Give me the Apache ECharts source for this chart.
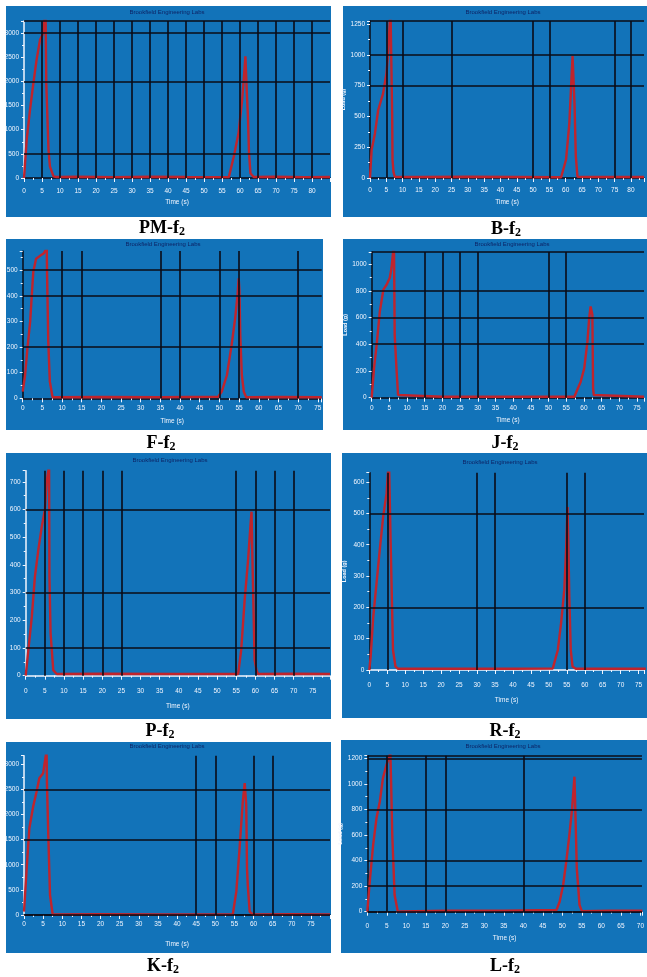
<!DOCTYPE html>
<html><head><meta charset="utf-8">
<script src="https://cdn.jsdelivr.net/npm/echarts/dist/echarts.min.js"></script>
<style>html,body{margin:0;padding:0;background:#fff}#c{width:647px;height:977px}</style>
</head><body><div id="c"></div>
<script>
// ---- data (time s, load g) ----
const captions = ['PM', 'B', 'F', 'J', 'P', 'R', 'K', 'L'];
const chartTitle = 'Brookfield Engineering Labs';
const xName = 'Time (s)';
const yName = 'Load (g)';

const pmLoad = [[0,0],[0.74,790],[1.67,1410],[2.6,1960],[3.5,2450],[4.45,2860],[5.4,3000],[5.7,3300],[6.0,3400],[6.2,1930],[6.8,590],[7.2,240],[8.2,35],[9,20],[15,25],[25,18],[35,25],[45,20],[56.9,18],[58.3,450],[59.6,930],[60.6,1620],[61.1,2100],[61.5,2520],[61.9,1760],[62.2,1280],[62.5,520],[62.9,100],[63.8,20],[70,25],[78,18],[85,20]];
const bLoad = [[0,0],[0.5,230],[1.5,360],[2.5,550],[4,685],[5.05,850],[5.6,1035],[6.06,1270],[6.3,1350],[6.6,1350],[6.8,500],[6.9,150],[7.2,50],[7.6,10],[15,8],[30,10],[45,8],[58.6,6],[60.1,150],[61.1,440],[62.1,990],[62.4,990],[62.7,600],[63.1,175],[63.6,10],[70,8],[84,8]];
const fLoad = [[0,26],[0.6,90],[1.2,195],[1.9,300],[2.3,400],[2.7,495],[3.4,545],[4.4,556],[5.3,565],[5.9,580],[6.1,600],[6.2,480],[6.5,220],[6.9,65],[7.6,4],[20,5],[35,4],[49.7,6],[50.6,26],[51.9,90],[53.1,208],[54,312],[54.6,403],[54.9,468],[55.1,420],[55.3,247],[55.7,91],[56.2,26],[56.8,4],[65,5],[76,4]];
const jLoad = [[0,0],[0.65,220],[1.4,395],[2.3,645],[3.3,808],[4.2,845],[5.1,895],[5.6,970],[6.05,1090],[6.3,1150],[6.5,470],[7.0,220],[7.45,20],[7.9,7],[20,7],[40,7],[57.3,7],[57.7,20],[59.1,120],[60.1,220],[61,420],[61.5,595],[61.9,683],[62.4,620],[62.6,70],[62.8,20],[63.3,7],[77,7]];
const pLoad = [[0,0],[0.7,93],[1.6,213],[2.4,357],[3.3,454],[4.2,538],[5.0,598],[5.5,700],[5.9,740],[6.1,780],[6.2,357],[6.5,153],[7.2,20],[8.1,6],[20,7],[40,6],[55.5,6],[56.3,93],[57.2,273],[58.1,418],[58.7,538],[59,592],[59.3,380],[59.8,57],[60.3,20],[60.7,6],[70,7],[79.5,6]];
const rLoad = [[0,0],[0.37,42],[1.1,170],[2,276],[2.9,382],[3.85,488],[4.8,563],[5.2,630],[5.5,660],[5.95,403],[6.6,64],[7.3,11],[8,4],[20,4],[40,4],[51.1,5],[52.5,64],[53.4,149],[54.3,255],[54.8,382],[55.2,520],[55.4,425],[55.7,234],[56.1,64],[56.6,11],[57.5,4],[70,4],[77,4]];
const kLoad = [[0,66],[0.7,930],[1.4,1726],[2.4,2158],[3.3,2457],[4,2722],[5,2822],[5.7,3174],[5.9,3300],[6.0,2620],[6.35,1594],[6.8,398],[7.5,10],[8,15],[20,18],[35,12],[54.6,15],[55.5,465],[56.3,1262],[57.2,2258],[57.7,2623],[58.1,2191],[58.3,930],[58.5,598],[59,66],[59.8,10],[70,15],[80,12]];
const lLoad = [[0,0],[0.7,261],[1.5,522],[2.35,730],[3.2,860],[4,1043],[4.9,1147],[5.7,1220],[5.9,1260],[6.1,1017],[6.4,600],[7,130],[7.8,4],[8.6,2],[20,8],[35,7],[48.5,13],[49.3,78],[50.2,209],[51,391],[51.8,600],[52.5,808],[53.1,1056],[53.4,704],[53.7,339],[54.4,52],[55,4],[62,7],[70.5,7]];

// cursor / grid lines (x = time, y = load)
const pmV = [5,10,15,20,25,30,35,40,45,50,55,60,65,70,75,80], pmH = [500,2000,3000,3250];
const bV = [5,10,25,50,55,75,80], bH = [750,1000,1275];
const fV = [10,15,35,40,50,55,70], fH = [200,400,500];
const jV = [15,20,25,30,50,55], jH = [400,600,800,1090];
const pV = [5,10,15,20,25,55,60,65,70], pH = [100,300,600];
const rV = [5,30,35,55,60], rH = [200,500];
const kV = [45,50,60,65], kH = [0,1500,2500];
const lV = [5,15,20,40], lH = [0,200,400,800,1200,1220];

// axis ranges
const xMaxes = [85, 84, 76, 77, 79.5, 76.5, 80, 70.4];
const yMaxes = [3250, 1275, 575, 1090, 740, 630, 3170, 1220];
const ySteps = [500, 250, 100, 200, 100, 100, 500, 200];

const series = [pmLoad, bLoad, fLoad, jLoad, pLoad, rLoad, kLoad, lLoad];
const vLines = [pmV, bV, fV, jV, pV, rV, kV, lV];
const hLines = [pmH, bH, fH, jH, pH, rH, kH, lH];

// ---- layout (pixels) ----
const layout = [
  {box:[6,6,325,211],   grid:[24,21,306,157],       title:[167,12],    cap:[162,228], yName:false, yWhite:true,  off:0, lm:10, ng:21},
  {box:[343,6,304,211], grid:[370,21,277,157],      title:[503,12],    cap:[506,229], yName:true,  yWhite:false, off:0, lm:9,  ng:21},
  {box:[6,239,317,191], grid:[22.7,251,299,147.3],  title:[163,244.5], cap:[161,443], yName:false, yWhite:false, off:0, lm:6,  ng:19},
  {box:[343,239,304,191], grid:[371.7,252,275.3,145.7], title:[512,244.5], cap:[505,443], yName:true, yWhite:false, off:0, lm:7, ng:19},
  {box:[6,453,325,266], grid:[25.7,470.7,304.3,205], title:[170,460],  cap:[160,731], yName:false, yWhite:true,  off:4, lm:8,  ng:23},
  {box:[342,453,305,265], grid:[369.3,472.7,277.7,197.3], title:[500,462.7], cap:[505,731], yName:true, yWhite:false, off:6, lm:6, ng:21},
  {box:[6,742,325,211], grid:[24,755.7,306,159.3],   title:[167,746.7], cap:[163,966], yName:false, yWhite:true,  off:0, lm:6,  ng:26},
  {box:[341,740,306,213], grid:[367.3,755.7,279.7,156], title:[503,746.7], cap:[505,966], yName:true, yWhite:false, off:0, lm:11, ng:23}
];

const BLUE = '#1273b9', NAVY = '#0d2466', RED = '#c0242c', BLACK = '#0b0b16', WHITE = '#f2f6ff';

const grids = [], xAxes = [], yAxes = [], ser = [], graphics = [];
layout.forEach((L, i) => {
  graphics.push({type:'rect', z:-10, shape:{x:L.box[0], y:L.box[1], width:L.box[2], height:L.box[3]}, style:{fill:BLUE}});
  graphics.push({type:'text', z:1, x:L.title[0], y:L.title[1], style:{text:chartTitle, fill:NAVY, font:'6px "Liberation Sans"', align:'center', verticalAlign:'middle', textAlign:'center', textVerticalAlign:'middle'}});
  graphics.push({type:'text', z:1, x:L.cap[0], y:L.cap[1], style:{
    text:'{a|' + captions[i] + '-f}{b|2}', align:'center', verticalAlign:'middle', textAlign:'center', textVerticalAlign:'middle',
    rich:{a:{fontSize:18, fontWeight:'bold', fontFamily:'Liberation Serif', fill:'#000', lineHeight:20},
          b:{fontSize:12, fontWeight:'bold', fontFamily:'Liberation Serif', fill:'#000', lineHeight:9, verticalAlign:'bottom'}}}});
  grids.push({left:L.grid[0], top:L.grid[1], width:L.grid[2], height:L.grid[3], containLabel:false, show:false});
  const ys = ySteps[i], xm = xMaxes[i];
  xAxes.push({type:'value', gridIndex:i, min:0, max:xm, interval:5, offset:L.off,
    name:xName, nameLocation:'middle', nameGap:L.ng, nameTextStyle:{color:WHITE, fontSize:6.5, fontFamily:'Liberation Sans'},
    axisLine:{show:true, lineStyle:{color: L.off ? WHITE : BLACK, width:1.5}},
    axisTick:{show:true, length:4, lineStyle:{color:WHITE, width:1}},
    minorTick:{show:true, splitNumber:2, length:2, lineStyle:{color:WHITE}},
    axisLabel:{color:WHITE, fontSize:6.5, margin:L.lm, fontFamily:'Liberation Sans',
      formatter: v => (v % 5 === 0 && v <= xm - 0.3 ? String(v) : '')},
    splitLine:{show:false}});
  yAxes.push({type:'value', gridIndex:i, min:0, max:yMaxes[i], interval:ys,
    name: L.yName ? yName : '', nameLocation:'middle', nameRotate:90, nameGap:22,
    nameTextStyle:{color:WHITE, fontSize:5.5, fontWeight:'bold', fontFamily:'Liberation Sans'},
    axisLine:{show:true, lineStyle:{color: L.yWhite ? WHITE : BLACK, width:1.5}},
    axisTick:{show:true, length:3, lineStyle:{color:WHITE}},
    minorTick:{show:true, splitNumber:2, length:2, lineStyle:{color:WHITE}},
    axisLabel:{color:WHITE, fontSize:6.5, margin:5, fontFamily:'Liberation Sans',
      formatter: v => (v % ys === 0 ? String(v) : '')},
    splitLine:{show:false}});
  const ml = vLines[i].map(v => ({xAxis:v})).concat(hLines[i].map(v => ({yAxis:v})));
  ser.push({type:'line', xAxisIndex:i, yAxisIndex:i, data:series[i], showSymbol:false, symbol:'none',
    clip:true, lineStyle:{color:RED, width:2.4}, z:3,
    markLine:{silent:true, symbol:'none', label:{show:false}, animation:false,
      lineStyle:{color:BLACK, width:1.6, type:'solid'}, data:ml}});
});

const chart = echarts.init(document.getElementById('c'), null, {renderer:'canvas'});
chart.setOption({
  backgroundColor:'#ffffff',
  animation:false,
  grid:grids, xAxis:xAxes, yAxis:yAxes, series:ser,
  graphic:{elements:graphics}
});
</script>
</body></html>
